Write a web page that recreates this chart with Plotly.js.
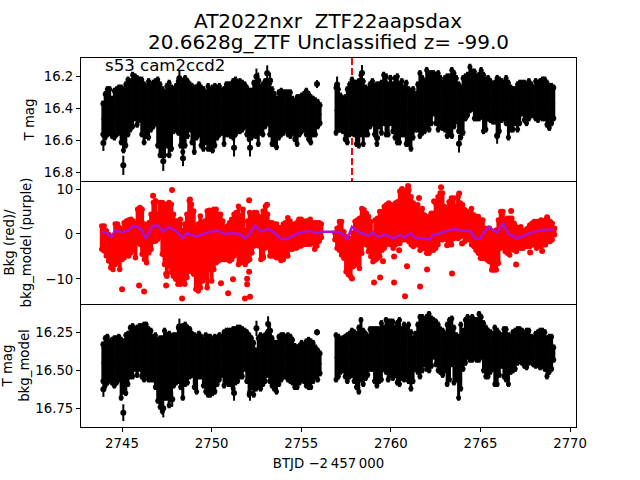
<!DOCTYPE html>
<html>
<head>
<meta charset="utf-8">
<script src="https://cdn.plot.ly/plotly-3.0.1.min.js"></script>
<style>html,body{margin:0;padding:0;background:#fff}#c{width:640px;height:480px}</style>
</head>
<body>
<div id="c"></div>
<script>
// Sample times (BTJD - 2457000), first and second observing orbit
const times1 = [2743.93,2744.06,2744.18,2744.31,2744.44,2744.57,2744.70,2744.82,2744.95,2745.08,
2745.21,2745.33,2745.46,2745.59,2745.72,2745.84,2745.97,2746.10,2746.23,2746.35,
2746.48,2746.61,2746.74,2746.86,2746.99,2747.12,2747.25,2747.37,2747.50,2747.63,
2747.76,2747.88,2748.01,2748.14,2748.27,2748.39,2748.52,2748.65,2748.78,2748.90,
2749.03,2749.16,2749.29,2749.41,2749.54,2749.67,2749.80,2749.92,2750.05,2750.18,
2750.31,2750.43,2750.56,2750.69,2750.82,2750.94,2751.07,2751.20,2751.33,2751.45,
2751.58,2751.71,2751.84,2751.96,2752.09,2752.22,2752.35,2752.47,2752.60,2752.73,
2752.86,2752.98,2753.11,2753.24,2753.37,2753.49,2753.62,2753.75,2753.88,2754.00,
2754.13,2754.26,2754.39,2754.51,2754.64,2754.77,2754.90,2755.02,2755.15,2755.28,
2755.41,2755.53,2755.66,2755.79,2755.92,2756.05];
const times2 = [2756.94,2757.07,2757.19,2757.32,2757.45,2757.57,2757.70,2757.83,2757.95,2758.08,
2758.21,2758.33,2758.46,2758.59,2758.71,2758.84,2758.97,2759.09,2759.22,2759.35,
2759.47,2759.60,2759.73,2759.85,2759.98,2760.11,2760.23,2760.36,2760.48,2760.61,
2760.74,2760.86,2760.99,2761.12,2761.24,2761.37,2761.50,2761.62,2761.75,2761.88,
2762.00,2762.13,2762.26,2762.38,2762.51,2762.64,2762.76,2762.89,2763.02,2763.14,
2763.27,2763.40,2763.52,2763.65,2763.78,2763.90,2764.03,2764.16,2764.28,2764.41,
2764.54,2764.66,2764.79,2764.92,2765.04,2765.17,2765.30,2765.42,2765.55,2765.68,
2765.80,2765.93,2766.05,2766.18,2766.31,2766.43,2766.56,2766.69,2766.81,2766.94,
2767.07,2767.19,2767.32,2767.45,2767.57,2767.70,2767.83,2767.95,2768.08,2768.21,
2768.33,2768.46,2768.59,2768.71,2768.84,2768.97,2769.09];
const redTimes1 = [2743.87,2744.00,2744.12,2744.25,2744.37,2744.50,2744.62,2744.75,2744.87,2745.00,
2745.12,2745.25,2745.37,2745.50,2745.62,2745.75,2745.87,2746.00,2746.12,2746.25,
2746.37,2746.50,2746.62,2746.75,2746.87,2747.00,2747.12,2747.25,2747.37,2747.50,
2747.62,2747.75,2747.87,2748.00,2748.12,2748.25,2748.37,2748.50,2748.62,2748.75,
2748.87,2749.00,2749.12,2749.25,2749.37,2749.50,2749.62,2749.75,2749.87,2750.00,
2750.12,2750.25,2750.37,2750.50,2750.62,2750.75,2750.87,2751.00,2751.12,2751.25,
2751.37,2751.50,2751.62,2751.75,2751.87,2752.00,2752.12,2752.25,2752.37,2752.50,
2752.62,2752.75,2752.87,2753.00,2753.12,2753.25,2753.37,2753.50,2753.62,2753.75,
2753.87,2754.00,2754.12,2754.25,2754.37,2754.50,2754.62,2754.75,2754.87,2755.00,
2755.12,2755.25,2755.37,2755.50,2755.62,2755.75,2755.87,2756.00,2756.12];
const redTimes2 = [2756.88,2757.00,2757.13,2757.25,2757.38,2757.50,2757.63,2757.75,2757.88,2758.00,
2758.13,2758.25,2758.38,2758.50,2758.63,2758.75,2758.88,2759.00,2759.13,2759.25,
2759.38,2759.50,2759.63,2759.75,2759.88,2760.00,2760.13,2760.25,2760.38,2760.50,
2760.63,2760.75,2760.88,2761.00,2761.13,2761.25,2761.38,2761.50,2761.63,2761.75,
2761.88,2762.00,2762.13,2762.25,2762.38,2762.50,2762.63,2762.75,2762.88,2763.00,
2763.13,2763.25,2763.38,2763.50,2763.63,2763.75,2763.88,2764.00,2764.13,2764.25,
2764.38,2764.50,2764.63,2764.75,2764.88,2765.00,2765.13,2765.25,2765.38,2765.50,
2765.63,2765.75,2765.88,2766.00,2766.13,2766.25,2766.38,2766.50,2766.63,2766.75,
2766.88,2767.00,2767.13,2767.25,2767.38,2767.50,2767.63,2767.75,2767.88,2768.00,
2768.13,2768.25,2768.38,2768.50,2768.63,2768.75,2768.88,2769.00,2769.13];

// Top panel: T mag, bright and faint edges of the error-bar band
const tmagBright1 = [16.35,16.29,16.26,16.26,16.32,16.27,16.26,16.25,16.25,16.26,
16.23,16.20,16.21,16.17,16.18,16.19,16.20,16.20,16.23,16.24,
16.21,16.23,16.22,16.21,16.20,16.23,16.26,16.28,16.24,16.22,
16.25,16.26,16.24,16.21,16.24,16.21,16.19,16.21,16.23,16.24,
16.25,16.25,16.23,16.25,16.26,16.28,16.24,16.26,16.25,16.24,
16.25,16.24,16.27,16.26,16.23,16.23,16.23,16.21,16.20,16.22,
16.21,16.22,16.23,16.25,16.27,16.27,16.22,16.22,16.23,16.25,
16.23,16.21,16.21,16.22,16.26,16.29,16.32,16.28,16.27,16.28,
16.28,16.28,16.28,16.32,16.34,16.31,16.31,16.30,16.29,16.27,
16.29,16.31,16.32,16.33,16.34,16.36];
const tmagFaint1 = [16.58,16.60,16.58,16.57,16.59,16.60,16.58,16.57,16.63,16.68,
16.65,16.58,16.55,16.53,16.48,16.52,16.49,16.58,16.63,16.59,
16.60,16.55,16.53,16.51,16.65,16.71,16.71,16.71,16.65,16.71,
16.67,16.56,16.54,16.57,16.65,16.69,16.65,16.59,16.55,16.63,
16.69,16.60,16.58,16.65,16.67,16.63,16.67,16.67,16.68,16.65,
16.60,16.58,16.57,16.64,16.58,16.58,16.59,16.60,16.58,16.56,
16.56,16.55,16.53,16.58,16.61,16.60,16.58,16.59,16.64,16.57,
16.58,16.53,16.51,16.58,16.64,16.64,16.66,16.60,16.58,16.57,
16.55,16.58,16.59,16.57,16.61,16.64,16.58,16.56,16.55,16.58,
16.61,16.63,16.58,16.58,16.53,16.51];
const tmagBright2 = [16.25,16.26,16.30,16.32,16.31,16.26,16.23,16.20,16.22,16.22,
16.21,16.17,16.21,16.25,16.26,16.23,16.21,16.24,16.23,16.23,
16.22,16.17,16.18,16.23,16.19,16.23,16.19,16.18,16.23,16.21,
16.25,16.22,16.26,16.28,16.26,16.29,16.23,16.16,16.19,16.21,
16.14,16.16,16.16,16.16,16.17,16.16,16.19,16.22,16.19,16.18,
16.18,16.14,16.16,16.19,16.23,16.25,16.19,16.18,16.17,16.12,
16.15,16.15,16.18,16.17,16.14,16.17,16.20,16.19,16.21,16.23,
16.22,16.19,16.20,16.21,16.22,16.19,16.22,16.25,16.26,16.26,
16.23,16.22,16.22,16.22,16.23,16.21,16.23,16.25,16.21,16.22,
16.21,16.20,16.20,16.22,16.24,16.24,16.25];
const tmagFaint2 = [16.57,16.55,16.55,16.56,16.61,16.63,16.58,16.55,16.58,16.64,
16.65,16.58,16.64,16.58,16.58,16.53,16.51,16.58,16.64,16.53,
16.57,16.51,16.58,16.58,16.51,16.56,16.60,16.63,16.63,16.58,
16.58,16.64,16.64,16.67,16.60,16.55,16.55,16.59,16.57,16.56,
16.53,16.55,16.51,16.45,16.51,16.55,16.53,16.54,16.55,16.59,
16.58,16.59,16.53,16.50,16.56,16.60,16.57,16.48,16.46,16.43,
16.42,16.48,16.48,16.48,16.47,16.56,16.55,16.48,16.49,16.50,
16.50,16.59,16.56,16.49,16.48,16.51,16.60,16.55,16.55,16.51,
16.55,16.51,16.45,16.49,16.51,16.48,16.46,16.46,16.48,16.49,
16.47,16.48,16.48,16.52,16.54,16.51,16.48];
// Isolated points with visible dots
const tmagDotTimes = [2743.96,2745.07,2747.30,2748.40,2748.20,2751.25,2752.14,2752.50,2752.60,2753.10,2753.26,2755.88,2759.23,2758.39,2757.00,2763.80,2765.93];
const tmagDots = [16.615,16.755,16.73,16.71,16.21,16.645,16.645,16.20,16.225,16.18,16.225,16.247,16.584,16.178,16.25,16.62,16.57];
const tmagDotErr = [0.05,0.06,0.06,0.05,0.05,0.055,0.055,0.05,0.05,0.05,0.05,0.025,0.05,0.05,0.05,0.055,0.05];
const markerTime = 2757.83;

// Middle panel: background flux, upper and lower edges of the cloud, then stray points
const bkgHigh1 = [1.8,1.8,0.7,-0.1,-0.5,-0.8,2.2,2.2,1.4,1.0,
2.5,2.9,3.1,3.3,2.9,2.2,5.5,5.9,5.5,2.2,
1.4,2.5,4.4,7.0,7.4,4.4,7.0,7.0,6.6,6.6,
7.0,6.6,4.4,2.9,2.9,3.3,0.7,2.2,4.4,7.4,
6.6,5.1,1.4,2.2,4.0,2.2,2.9,5.1,5.3,5.1,
5.5,5.5,4.4,4.4,2.9,1.4,1.8,2.5,3.3,4.4,
4.8,6.2,4.0,5.5,0.7,2.9,4.8,4.4,4.8,4.8,
4.0,3.3,5.1,6.2,4.4,2.5,2.5,2.2,2.2,1.4,
1.4,2.2,2.5,3.6,2.9,2.2,1.8,2.5,3.3,3.3,
2.5,2.9,2.9,3.3,2.5,2.5,2.5,2.5,2.2];
const bkgLow1 = [-3.4,-3.8,-4.9,-6.0,-7.5,-7.9,-6.8,-6.0,-7.9,-5.7,
-5.3,-4.5,-4.9,-4.2,-3.4,-5.3,-1.6,-2.3,-4.5,-5.7,
-6.4,-4.2,-3.4,-1.6,-1.6,-1.2,-0.5,-4.5,-6.8,-9.4,
-7.1,-8.6,-9.4,-10.1,-11.2,-11.2,-10.5,-11.2,-9.7,-8.3,
-8.3,-9.0,-12.3,-12.7,-12.0,-10.5,-9.7,-12.0,-7.9,-10.5,
-7.9,-6.4,-6.0,-5.7,-5.7,-5.7,-5.7,-6.0,-5.7,-4.9,
-4.2,-6.8,-6.4,-5.7,-6.8,-6.0,-5.7,-4.2,-2.7,-2.3,
-2.7,-5.7,-4.9,-3.1,-2.7,-4.9,-4.9,-4.9,-5.3,-5.3,
-5.9,-5.7,-4.9,-4.9,-3.4,-3.4,-3.1,-3.1,-2.7,-2.7,
-2.3,-2.3,-2.3,-2.3,-1.9,-3.4,-2.7,-1.6,-0.8];
const bkgHigh2 = [0.2,1.3,2.8,2.8,0.5,-0.6,-1.0,-1.0,0.2,2.8,
3.1,3.5,5.7,5.4,4.6,3.9,2.8,0.2,3.1,3.5,
5.0,5.0,6.1,6.5,6.9,6.5,5.7,6.9,7.2,9.5,
9.8,9.1,9.8,9.8,8.3,6.9,5.7,6.5,5.0,5.7,
4.2,3.5,3.9,4.6,4.6,6.9,8.3,9.1,9.1,6.1,
5.4,7.2,8.0,8.0,6.1,8.3,6.9,6.5,5.4,5.0,
4.6,5.7,4.2,3.9,3.9,3.1,3.1,1.3,0.5,1.3,
0.2,0.2,0.9,3.1,5.0,5.0,3.1,3.5,3.5,3.5,
2.4,1.6,1.3,1.6,0.5,0.9,1.3,2.0,2.4,2.8,
2.8,2.8,3.1,2.4,3.1,3.1,2.8,2.4,1.3];
const bkgLow2 = [-1.3,-3.2,-3.6,-4.7,-5.4,-8.4,-9.1,-9.5,-7.3,-6.9,
-6.5,-7.7,-4.3,-2.1,-2.4,-3.9,-5.0,-6.2,-5.8,-5.4,
-5.0,-3.6,-3.2,-2.4,-2.1,-2.4,-3.2,-2.4,-2.1,-2.1,
-1.3,-1.3,-1.3,-1.7,-2.4,-2.8,-2.4,-2.4,-3.6,-3.2,
-3.2,-4.3,-4.3,-3.6,-3.6,-3.2,-2.4,-1.3,-1.3,-1.0,
-1.3,-1.7,-2.4,-1.0,-0.2,-1.0,-0.6,-0.2,-1.7,-0.6,
-1.3,-2.4,-2.8,-3.6,-4.3,-5.4,-5.4,-5.4,-5.8,-6.2,
-8.0,-8.0,-8.0,-6.5,-3.2,-2.8,-3.9,-4.3,-4.7,-3.2,
-3.6,-3.9,-3.2,-3.2,-3.2,-2.4,-2.8,-2.8,-2.4,-2.4,
-3.2,-2.1,-2.8,-2.4,-2.4,-1.7,-1.7,-1.3,-0.2];
const bkgStrayTimes = [2747.79,2746.73,2748.79,2752.09,2745.00,2745.95,2746.23,2748.35,2750.52,2750.92,2751.19,2751.86,2752.14,2751.98,2751.98,2752.09,2753.09,2752.87,2747.46,2747.46,
2757.83,2759.06,2759.40,2759.56,2760.18,2760.79,2760.90,2761.63,2762.02,2763.41,2766.99,2767.77,2768.44,2763.97,2760.96,2760.62,2762.80,2761.57,2763.81,2762.41,2766.71,2768.72,2760.18,2760.46,2763.14,2757.61];
const bkgStray = [9.8,8.5,7.7,7.5,-12.3,-11.5,-12.8,-14.4,-11.0,-13.2,-10.1,-14.4,-14.0,-11.2,-10.0,-8.4,6.5,-5.3,-11.5,-8.9,
-9.9,-10.8,-9.7,-6.1,-10.8,-13.9,-7.2,-11.7,-7.9,-8.8,-6.8,-4.1,-3.8,-2.1,10.7,10.0,10.4,8.0,9.0,7.3,5.1,3.7,-5.0,-3.6,-2.5,-8.4];
const modelTimes = [2743.86,2744.14,2744.42,2744.61,2744.98,2745.35,2745.63,2745.91,2746.10,2746.32,2746.50,2746.71,2747.03,2747.30,2747.58,2747.86,2748.14,2748.38,2748.61,2748.89,2749.16,2749.54,2749.91,2750.37,2750.69,2751.21,2751.58,2751.86,2752.14,2752.42,2752.79,2753.07,2753.26,2753.93,2754.28,2754.77,2755.49,2755.88,2756.16,2756.60,2756.89,2757.28,2757.56,2757.83,2758.18,2758.73,2759.00,2759.29,2759.68,2760.12,2760.51,2760.79,2761.07,2761.35,2762.19,2762.35,2762.75,2763.19,2763.58,2763.86,2764.42,2764.70,2764.98,2765.43,2765.93,2766.26,2766.54,2767.04,2767.60,2767.94,2768.50,2769.10];
const modelValues = [0.5,0.2,-0.6,0.75,0.4,0.75,1.8,1.5,0.9,-1.0,0.2,1.8,1.8,0.5,1.5,1.05,0.2,-1.0,0.2,-0.2,-0.6,0,0.5,0.75,0,0.2,0,-1.0,0.2,1.8,0.5,1.05,1.0,-1.2,-1.0,0.1,0.7,0.15,0.5,0.5,0.5,0.15,-1.2,1.6,0.5,-0.4,0.3,-0.7,-0.05,-1.0,-0.2,-0.8,0.15,-0.8,-1.2,-0.2,0.15,0.75,1.1,0.75,0.7,-1.0,-1.0,1.6,0.3,2.4,0.15,-1.0,0,0.5,0.9,1.05];

// Bottom panel: T mag divided by the background model
const corrBright1 = [16.31,16.27,16.26,16.29,16.28,16.27,16.27,16.26,16.28,16.29,
16.25,16.24,16.20,16.19,16.21,16.20,16.19,16.19,16.18,16.18,
16.21,16.22,16.26,16.25,16.28,16.27,16.27,16.22,16.25,16.24,
16.26,16.25,16.25,16.20,16.22,16.19,16.18,16.20,16.21,16.24,
16.25,16.26,16.24,16.26,16.28,16.25,16.26,16.26,16.28,
16.26,16.27,16.25,16.26,16.23,16.22,16.22,16.22,16.21,16.21,
16.20,16.20,16.21,16.22,16.23,16.25,16.27,16.30,16.35,16.27,
16.25,16.26,16.25,16.23,16.25,16.27,16.30,16.30,16.26,16.25,
16.25,16.26,16.25,16.26,16.28,16.32,16.33,16.32,16.30,16.32,
16.29,16.28,16.29,16.30,16.33,16.35,16.37];
const corrFaint1 = [16.59,16.62,16.60,16.58,16.60,16.62,16.60,16.58,16.70,16.66,
16.67,16.61,16.56,16.56,16.51,16.55,16.51,16.56,16.58,16.55,
16.58,16.58,16.58,16.63,16.72,16.76,16.79,16.70,16.70,16.75,
16.71,16.62,16.60,16.59,16.63,16.70,16.61,16.60,16.56,16.55,
16.63,16.66,16.56,16.56,16.62,16.66,16.68,16.68,16.67,
16.66,16.61,16.58,16.55,16.62,16.59,16.61,16.61,16.64,16.60,
16.59,16.56,16.56,16.51,16.59,16.68,16.63,16.68,16.64,16.63,
16.64,16.61,16.59,16.55,16.59,16.62,16.64,16.66,16.61,16.58,
16.56,16.56,16.58,16.59,16.60,16.63,16.63,16.60,16.58,16.59,
16.62,16.63,16.63,16.59,16.56,16.58,16.54];
const corrBright2 = [16.25,16.26,16.28,16.27,16.26,16.25,16.24,16.22,16.23,16.24,
16.20,16.15,16.22,16.24,16.26,16.21,16.21,16.21,16.21,16.21,
16.17,16.20,16.15,16.16,16.16,16.16,16.20,16.17,16.15,16.21,
16.18,16.20,16.18,16.23,16.27,16.24,16.18,16.13,16.13,16.15,
16.13,16.11,16.14,16.15,16.16,16.18,16.21,16.22,16.24,16.18,
16.15,16.14,16.20,16.25,16.26,16.18,16.22,16.15,16.13,16.16,
16.13,16.15,16.15,16.11,16.13,16.17,16.20,16.22,16.23,16.24,
16.20,16.22,16.24,16.25,16.21,16.21,16.25,16.26,16.23,16.22,
16.21,16.21,16.22,16.25,16.22,16.22,16.26,16.27,16.24,16.23,
16.22,16.22,16.23,16.27,16.26,16.26,16.33];
const corrFaint2 = [16.58,16.56,16.53,16.52,16.56,16.59,16.56,16.55,16.59,16.63,
16.66,16.58,16.61,16.57,16.55,16.51,16.51,16.59,16.62,16.59,
16.58,16.51,16.53,16.58,16.55,16.57,16.55,16.60,16.61,16.57,
16.58,16.56,16.59,16.64,16.59,16.51,16.53,16.56,16.52,16.48,
16.51,16.52,16.49,16.43,16.48,16.52,16.53,16.55,16.52,16.61,
16.58,16.48,16.60,16.58,16.70,16.64,16.51,16.47,16.43,16.45,
16.45,16.43,16.45,16.45,16.43,16.52,16.56,16.56,16.53,16.51,
16.61,16.61,16.55,16.49,16.56,16.58,16.61,16.53,16.52,16.51,
16.47,16.44,16.47,16.49,16.50,16.47,16.46,16.48,16.49,16.48,
16.50,16.49,16.51,16.56,16.53,16.51,16.45];
const corrDotTimes = [2745.07,2743.96,2747.30,2748.20,2752.50,2753.15,2753.26,2755.88,2747.80,2751.25,2752.14];
const corrDots = [16.779,16.625,16.75,16.21,16.224,16.195,16.24,16.25,16.69,16.65,16.65];
const corrDotErr = [0.055,0.05,0.06,0.05,0.05,0.05,0.05,0.02,0.05,0.05,0.05];

const titleLine1 = 'AT2022nxr  ZTF22aapsdax';
const titleLine2 = '20.6628g_ZTF Unclassified z= -99.0';
const sectorLabel = 's53 cam2ccd2';
const xLabel = 'BTJD \u22122\u2009457\u2009000';
const yLabels = ['T mag', 'Bkg (red)/<br>bkg_model (purple)', 'T mag<br>bkg_model'];

const FONT = '"DejaVu Sans", sans-serif';
const mid = (a, b) => a.map((v, i) => (v + b[i]) / 2);
const half = (a, b) => a.map((v, i) => Math.abs(b[i] - v) / 2);

function band(xa, ya, t, up, lo, color, thick) {
  return {type:'scatter', mode:'markers', xaxis:xa, yaxis:ya, x:t, y:mid(up, lo),
    marker:{color:color, size:3},
    error_y:{type:'data', array:half(up, lo), color:color, thickness:thick, width:0},
    hoverinfo:'skip', showlegend:false};
}
function edge(xa, ya, t, y, color, size) {
  return {type:'scatter', mode:'markers', xaxis:xa, yaxis:ya, x:t, y:y,
    marker:{color:color, size:size}, hoverinfo:'skip', showlegend:false};
}
function dots(xa, ya, t, y, e) {
  return {type:'scatter', mode:'markers', xaxis:xa, yaxis:ya, x:t, y:y,
    marker:{color:'black', size:6},
    error_y:{type:'data', array:e, color:'black', thickness:2, width:0},
    hoverinfo:'skip', showlegend:false};
}
const inset = (a, d) => a.map(v => v + d);

const data = [
  {type:'scatter', mode:'lines', xaxis:'x', yaxis:'y', x:[markerTime, markerTime], y:[16.084, 16.853],
   line:{color:'red', width:2, dash:'7px,3px'}, hoverinfo:'skip', showlegend:false},
  band('x','y',times1,tmagBright1,tmagFaint1,'black',3),
  band('x','y',times2,tmagBright2,tmagFaint2,'black',3),
  edge('x','y',times1,inset(tmagBright1,0.02),'black',5), edge('x','y',times1,inset(tmagFaint1,-0.02),'black',5),
  edge('x','y',times2,inset(tmagBright2,0.02),'black',5), edge('x','y',times2,inset(tmagFaint2,-0.02),'black',5),
  dots('x','y',tmagDotTimes,tmagDots,tmagDotErr),

  band('x2','y2',redTimes1,bkgHigh1,bkgLow1,'red',4),
  band('x2','y2',redTimes2,bkgHigh2,bkgLow2,'red',4),
  edge('x2','y2',redTimes1,bkgHigh1,'red',5.5), edge('x2','y2',redTimes1,bkgLow1,'red',5.5),
  edge('x2','y2',redTimes2,bkgHigh2,'red',5.5), edge('x2','y2',redTimes2,bkgLow2,'red',5.5),
  edge('x2','y2',bkgStrayTimes,bkgStray,'red',6),
  {type:'scatter', mode:'lines', xaxis:'x2', yaxis:'y2', x:modelTimes, y:modelValues,
   line:{color:'#ad10d0', width:2.6}, hoverinfo:'skip', showlegend:false},

  band('x3','y3',times1,corrBright1,corrFaint1,'black',3),
  band('x3','y3',times2,corrBright2,corrFaint2,'black',3),
  edge('x3','y3',times1,inset(corrBright1,0.02),'black',5), edge('x3','y3',times1,inset(corrFaint1,-0.02),'black',5),
  edge('x3','y3',times2,inset(corrBright2,0.02),'black',5), edge('x3','y3',times2,inset(corrFaint2,-0.02),'black',5),
  dots('x3','y3',corrDotTimes,corrDots,corrDotErr)
];

const tickFont = {family:FONT, size:13.3, color:'black'};
const xRange = [2742.71, 2770.33];
function xAxis(anchor, labels, mirror) {
  const a = {range:xRange, anchor:anchor, showgrid:false, zeroline:false, showline:true, mirror:mirror,
    linecolor:'black', linewidth:1, tickfont:tickFont, tickcolor:'black'};
  if (labels) {
    a.tickmode = 'array'; a.tickvals = [2745,2750,2755,2760,2765,2770]; a.ticks = 'outside'; a.ticklen = 4; a.tickwidth = 1;
    a.title = {text:xLabel, font:{family:FONT, size:13.3, color:'black'}, standoff:8};
  } else { a.showticklabels = false; a.ticks = ''; }
  return a;
}
function yAxis(anchor, domain, range, vals, fmt, label, standoff) {
  return {anchor:anchor, domain:domain, range:range, tickmode:'array', tickvals:vals, tickformat:fmt,
    showgrid:false, zeroline:false, showline:true, mirror:true, linecolor:'black', linewidth:1,
    ticks:'outside', ticklen:4, tickwidth:1, tickcolor:'black', tickfont:tickFont,
    title:{text:label, font:{family:FONT, size:13.3, color:'black'}, standoff:standoff}};
}
const layout = {
  width:640, height:480, margin:{l:81, r:64, t:58, b:53, pad:0},
  paper_bgcolor:'white', plot_bgcolor:'white', showlegend:false, hovermode:false,
  font:{family:FONT, color:'black'},
  title:{text:titleLine1, font:{family:FONT, size:20, color:'black'}, x:(328)/640, xanchor:'center', y:1-21/480, yanchor:'middle'},
  xaxis:xAxis('y', false, true), xaxis2:xAxis('y2', false, false), xaxis3:xAxis('y3', true, false),
  yaxis:yAxis('x', [2/3, 1], [16.853, 16.084], [16.2,16.4,16.6,16.8], '.1f', yLabels[0], 6),
  yaxis2:yAxis('x2', [1/3, 2/3], [-15.6, 11.8], [-10,0,10], 'd', yLabels[1], 10),
  yaxis3:yAxis('x3', [0, 1/3], [16.873, 16.064], [16.25,16.5,16.75], '.2f', yLabels[2], 24),
  annotations:[
    {text:titleLine2, xref:'paper', yref:'paper', x:(328-81)/495, y:(427-42.5)/369, xanchor:'center', yanchor:'middle',
     showarrow:false, font:{family:FONT, size:20, color:'black'}},
    {text:sectorLabel, xref:'paper', yref:'paper', x:(103-81)/495, y:(427-65)/369, xanchor:'left', yanchor:'middle',
     showarrow:false, font:{family:FONT, size:16.6, color:'black'}}]
};
Plotly.newPlot('c', data, layout, {displayModeBar:false, staticPlot:true});
</script>
</body>
</html>
